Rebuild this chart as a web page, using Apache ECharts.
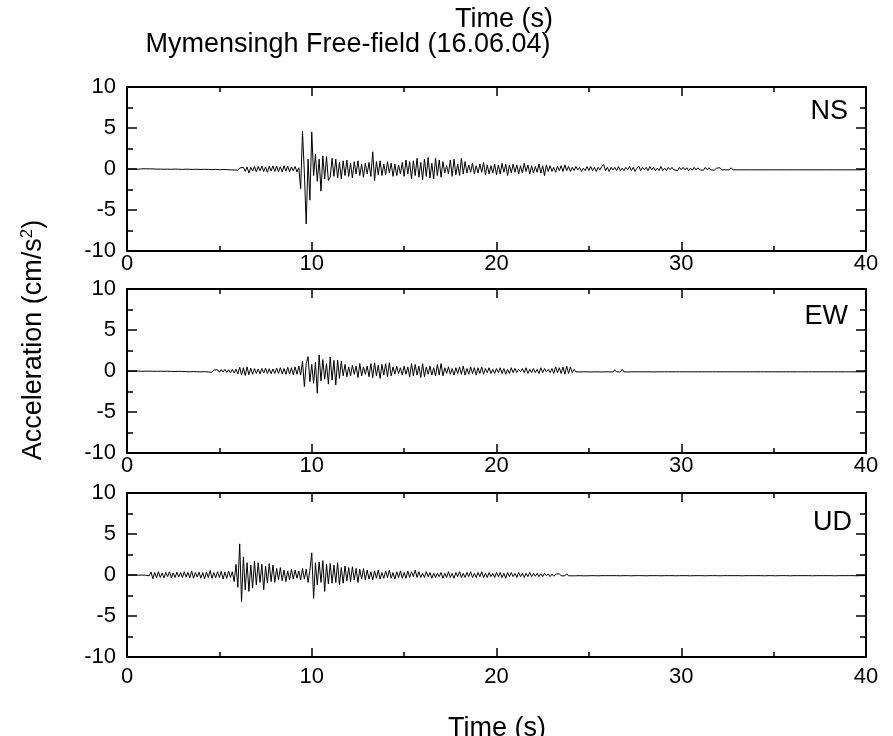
<!DOCTYPE html>
<html>
<head>
<meta charset="utf-8">
<script src="https://cdn.jsdelivr.net/npm/echarts@6/dist/echarts.min.js"></script>
<style>html,body{margin:0;padding:0;background:#fff}#c{width:893px;height:736px}</style>
</head>
<body>
<div id="c"></div>
<script>
const dt = 0.1;
const panelNames = ['NS', 'EW', 'UD'];
const xTicks = [0, 10, 20, 30, 40];
const yTicks = [-10, -5, 0, 5, 10];

const ns = [
0,0.02,-0.02,0.03,-0.01,0.02,-0.03,0.01,0.02,-0.02,
0.03,-0.02,0.01,-0.03,0.02,0.01,-0.02,0.03,-0.01,0.02,
-0.03,0.04,-0.02,0.01,-0.04,0.03,-0.01,0.02,-0.03,0.04,
-0.05,0.03,-0.02,0.06,-0.04,0.02,-0.05,0.04,-0.03,0.05,
-0.06,0.05,-0.04,0.07,-0.05,0.03,-0.08,0.06,-0.04,0.07,
-0.09,0.08,-0.06,0.1,-0.08,0.12,-0.1,0.07,-0.12,0.1,
-0.14,0.12,-0.1,0.2,-0.3,0.25,-0.5,0.2,-0.25,0.3,
-0.35,0.3,-0.22,0.35,-0.3,0.25,-0.4,0.32,-0.25,0.38,
-0.3,0.35,-0.32,0.28,-0.35,0.4,-0.28,0.33,-0.35,0.25,
-0.22,0.3,-0.35,0.15,-2.4,4.6,-0.5,-6.7,1.2,-3.8,
4.5,-0.8,1.8,-1.5,1.2,-2.7,1.6,-1.2,1.5,-1.4,
-1.0,1.3,-0.9,1.2,-1.1,0.8,-1.2,1.0,-0.8,1.1,
-0.9,0.7,-1.1,0.9,-0.6,1.0,-0.8,0.6,-1.0,0.7,
-0.6,0.8,-0.9,2.1,-1.4,0.9,-0.7,1.0,-0.8,0.6,
-0.7,0.9,-0.5,0.7,-0.9,0.6,-0.8,0.5,-0.6,0.8,
-0.9,1.1,-0.6,0.9,-1.2,1.0,-0.8,1.3,-1.0,0.8,
-1.3,1.2,-0.9,1.4,-1.1,0.7,-1.2,1.3,-0.8,1.1,
-1.0,0.9,-0.5,0.4,-0.6,1.1,-0.9,1.2,-0.7,0.6,
-0.8,1.3,-0.6,0.9,-0.5,0.5,-0.4,0.7,-0.6,0.4,
-0.5,0.6,-0.4,0.8,-0.7,0.5,-0.6,0.4,-0.5,0.6,
-0.7,0.5,-0.6,0.7,-0.4,0.6,-0.8,0.5,-0.5,0.6,
-0.4,0.5,-0.6,0.4,-0.5,0.7,-0.3,0.5,-0.6,0.4,
-0.5,0.3,-0.4,0.6,-0.5,0.4,-0.8,0.5,-0.3,0.4,
-0.3,0.2,-0.4,0.3,-0.2,0.4,-0.3,0.5,-0.2,0.3,
-0.3,0.2,-0.2,0.3,-0.1,0.2,-0.3,0.1,-0.2,0.3,
-0.2,0.3,-0.2,0.2,-0.3,0.2,-0.1,0.3,0.55,-0.2,
0.2,-0.3,0.2,-0.1,0.2,-0.2,0.3,-0.2,0.1,-0.2,
0.2,-0.1,0.3,-0.2,0.2,-0.3,0.1,0.35,-0.2,0.2,
-0.1,0.2,-0.2,0.3,-0.1,0.2,-0.2,0.1,-0.2,0.3,
-0.2,0.1,-0.2,0.2,-0.1,0.2,-0.1,0.1,-0.2,0.2,
-0.1,0.2,-0.1,0.15,-0.2,0.1,-0.15,0.2,-0.1,0.15,
-0.1,0.1,-0.15,0.2,-0.1,0.15,-0.1,0.1,-0.15,0.1,
-0.1,0.15,-0.1,0.1,-0.1,0.1,-0.1,0.15,-0.1,0.1,
-0.1,0.1,-0.1,0.1,-0.1,0.1,-0.1,0.1,-0.1,0.1,
-0.1,0.1,-0.1,0.1,-0.1,0.1,-0.1,0.1,-0.1,0.1,
-0.1,0.1,-0.1,0.1,-0.1,0.1,-0.1,0.1,-0.1,0.1,
-0.1,0.1,-0.1,0.1,-0.1,0.1,-0.1,0.1,-0.1,0.1,
-0.1,0.1,-0.1,0.1,-0.1,0.1,-0.1,0.1,-0.1,0.1,
-0.1,0.1,-0.1,0.1,-0.1,0.1,-0.1,0.1,-0.1,0.1,
-0.1,0.1,-0.1,0.1,-0.1,0.1,-0.1,0.1,-0.1,0.1,
0
];

const ew = [
0,0.02,-0.02,0.01,-0.02,0.03,-0.01,0.02,-0.03,0.01,
-0.02,0.03,-0.02,0.04,-0.03,0.02,-0.04,0.03,-0.02,0.04,
-0.04,0.05,-0.03,0.06,-0.05,0.04,-0.06,0.05,-0.04,0.07,
-0.06,0.08,-0.07,0.06,-0.1,0.08,-0.07,0.1,-0.09,0.08,
-0.1,0.12,-0.08,0.14,-0.12,0.1,-0.15,0.12,-0.1,0.15,
-0.15,0.18,-0.12,0.2,-0.18,0.15,-0.22,0.2,-0.25,0.22,
-0.35,0.45,-0.5,0.4,-0.55,0.5,-0.45,0.35,-0.4,0.3,
-0.3,0.25,-0.35,0.3,-0.25,0.35,-0.3,0.28,-0.32,0.25,
-0.3,0.35,-0.28,0.4,-0.35,0.3,-0.4,0.45,-0.38,0.4,
-0.45,0.5,-0.4,0.6,-0.5,1.2,-1.9,0.9,1.75,-1.3,
0.8,-1.5,1.1,-2.7,1.95,-1.2,1.4,-1.0,0.9,-1.6,
1.7,-1.1,1.3,-1.7,1.35,-0.9,1.2,-0.6,0.8,-0.7,
0.5,-0.6,0.7,-0.4,0.6,-0.8,0.9,-0.6,0.5,-0.4,
0.6,-0.7,0.9,-0.8,1.0,-0.6,0.7,-0.9,0.8,-0.5,
0.9,-0.7,1.0,-0.6,0.5,-0.4,0.6,-0.3,0.4,-0.5,
0.6,-0.4,0.5,-0.7,0.9,-0.6,0.8,-0.5,0.6,-0.8,
0.9,-0.7,0.5,-0.4,0.6,-0.5,0.4,-0.6,0.8,-0.5,
0.9,-0.6,0.4,-0.3,0.5,-0.4,0.3,-0.5,0.4,-0.3,
0.5,-0.4,0.6,-0.5,0.3,-0.4,0.5,-0.3,0.4,-0.5,
0.4,-0.3,0.5,-0.4,0.3,-0.2,0.4,-0.3,0.2,-0.3,
0.3,-0.2,0.4,-0.3,0.3,-0.4,0.2,-0.3,0.4,-0.2,
0.3,-0.2,0.2,-0.1,0.3,-0.2,0.4,-0.3,0.2,-0.2,
0.3,-0.2,0.2,-0.3,0.4,-0.2,0.3,-0.1,0.2,-0.2,
0.3,-0.3,0.5,-0.2,0.4,-0.3,0.5,-0.4,0.6,-0.3,
0.5,-0.2,0.2,-0.1,0.1,-0.12,0.1,-0.1,0.12,-0.1,
0.1,-0.12,0.1,-0.1,0.12,-0.1,0.1,-0.12,0.1,-0.1,
0.12,-0.1,0.1,-0.12,0.15,-0.1,0.1,-0.12,0.2,-0.1,
0.1,-0.12,0.1,-0.1,0.12,-0.1,0.1,-0.1,0.1,-0.1,
0.1,-0.1,0.1,-0.1,0.1,-0.12,0.1,-0.1,0.1,-0.1,
0.1,-0.1,0.1,-0.1,0.1,-0.1,0.1,-0.1,0.1,-0.1,
0.1,-0.1,0.1,-0.1,0.1,-0.1,0.1,-0.1,0.12,-0.1,
0.1,-0.1,0.1,-0.1,0.1,-0.1,0.1,-0.1,0.1,-0.1,
0.1,-0.1,0.1,-0.1,0.1,-0.1,0.1,-0.1,0.1,-0.1,
0.1,-0.1,0.1,-0.1,0.1,-0.1,0.1,-0.1,0.1,-0.1,
0.1,-0.1,0.1,-0.1,0.1,-0.1,0.1,-0.1,0.1,-0.1,
0.1,-0.1,0.1,-0.1,0.1,-0.1,0.1,-0.1,0.1,-0.1,
0.1,-0.1,0.1,-0.1,0.1,-0.1,0.1,-0.1,0.1,-0.1,
0.1,-0.1,0.1,-0.1,0.1,-0.1,0.1,-0.1,0.1,-0.1,
0.1,-0.1,0.1,-0.1,0.1,-0.1,0.1,-0.1,0.1,-0.1,
0.1,-0.1,0.1,-0.1,0.1,-0.1,0.1,-0.1,0.1,-0.1,
0
];

const ud = [
0,0.01,-0.01,0.02,-0.01,0.01,-0.02,0.01,-0.01,0.02,
-0.02,0.03,-0.1,0.35,-0.45,0.3,-0.35,0.4,-0.3,0.25,
-0.35,0.3,-0.2,0.4,-0.35,0.25,-0.3,0.35,-0.25,0.3,
-0.3,0.4,-0.25,0.3,-0.35,0.5,-0.4,0.3,-0.25,0.35,
-0.4,0.3,-0.45,0.35,-0.3,0.55,-0.4,0.3,-0.35,0.4,
-0.3,0.45,-0.5,0.35,-0.4,0.5,-0.3,0.4,-0.8,1.3,
-1.5,3.8,-3.25,2.2,-1.8,1.5,-2.0,1.2,-1.6,1.7,
-1.2,1.5,-0.9,1.3,-1.8,1.1,-1.0,1.4,-0.8,1.2,
-0.9,0.8,-0.6,0.9,-0.7,0.6,-0.8,0.5,-0.6,0.7,
-0.5,0.6,-0.4,0.5,-0.6,0.8,-0.5,0.7,-0.9,0.6,
2.7,-2.85,1.5,-1.2,1.6,-0.9,1.75,-2.0,1.3,-1.1,
1.4,-1.0,1.2,-0.9,1.5,-1.2,0.9,-1.0,1.1,-0.7,
0.9,-0.8,1.0,-0.6,0.8,-0.9,0.7,-0.5,0.8,-0.6,
0.6,-0.5,0.4,-0.6,0.5,-0.4,0.6,-0.5,0.3,-0.4,
0.5,-0.3,0.6,-0.4,0.3,-0.5,0.4,-0.3,0.5,-0.4,
0.3,-0.4,0.5,-0.3,0.4,-0.2,0.6,-0.3,0.4,-0.3,
0.2,-0.3,0.4,-0.2,0.3,-0.4,0.2,-0.3,0.2,-0.2,
0.3,-0.4,0.2,-0.3,0.4,-0.3,0.2,-0.4,0.3,-0.2,
0.4,-0.3,0.2,-0.3,0.3,-0.2,0.4,-0.3,0.2,-0.3,
0.3,-0.2,0.4,-0.3,0.2,-0.3,0.3,-0.2,0.2,-0.3,
0.3,-0.2,0.3,-0.3,0.2,-0.4,0.3,-0.2,0.3,-0.2,
0.2,-0.3,0.3,-0.2,0.2,-0.3,0.2,-0.2,0.3,-0.2,
0.2,-0.15,0.2,-0.2,0.15,-0.2,0.2,-0.1,0.15,-0.2,
0.1,-0.15,0.1,-0.1,0.15,-0.1,0.1,-0.1,0.15,-0.1,
0.1,-0.1,0.08,-0.1,0.1,-0.08,0.1,-0.1,0.08,-0.1,
0.08,-0.08,0.1,-0.08,0.08,-0.1,0.08,-0.08,0.08,-0.08,
0.1,-0.08,0.08,-0.08,0.1,-0.08,0.08,-0.1,0.08,-0.08,
0.08,-0.08,0.1,-0.1,0.08,-0.08,0.1,-0.08,0.08,-0.08,
0.08,-0.1,0.08,-0.08,0.08,-0.08,0.1,-0.08,0.08,-0.1,
0.08,-0.08,0.1,-0.08,0.08,-0.08,0.08,-0.1,0.08,-0.08,
0.1,-0.08,0.08,-0.08,0.08,-0.1,0.08,-0.08,0.1,-0.08,
0.08,-0.08,0.08,-0.1,0.08,-0.08,0.08,-0.08,0.1,-0.08,
0.08,-0.1,0.08,-0.08,0.1,-0.08,0.08,-0.08,0.08,-0.08,
0.1,-0.08,0.08,-0.1,0.08,-0.08,0.08,-0.08,0.1,-0.08,
0.08,-0.08,0.1,-0.08,0.08,-0.1,0.08,-0.08,0.08,-0.08,
0.08,-0.1,0.08,-0.08,0.1,-0.08,0.08,-0.08,0.08,-0.1,
0.08,-0.08,0.1,-0.08,0.08,-0.08,0.1,-0.08,0.08,-0.08,
0.08,-0.1,0.08,-0.08,0.08,-0.08,0.1,-0.08,0.08,-0.08,
0.1,-0.08,0.08,-0.1,0.08,-0.08,0.08,-0.08,0.1,-0.08,
0.08,-0.08,0.1,-0.08,0.08,-0.1,0.08,-0.08,0.08,-0.08,
0
];

const traces = [ns, ew, ud];
const FONT = '"Liberation Sans", Arial, Helvetica, sans-serif';
const gridTops = [87, 289, 493];
const labelMargins = [2, 2, 9];

const chart = echarts.init(document.getElementById('c'), null, {renderer: 'canvas'});

const grids = [], xAxes = [], yAxes = [], series = [];
const axLine = {onZero: false, lineStyle: {color: '#000', width: 2}};
gridTops.forEach((top, g) => {
  grids.push({left: 127, width: 739, top: top, height: 164});
  const xBase = {
    type: 'value', gridIndex: g, min: xTicks[0], max: xTicks[xTicks.length - 1], interval: 10,
    axisLine: axLine, splitLine: {show: false},
    axisTick: {inside: true, length: 9, lineStyle: {color: '#000', width: 1.5}},
    minorTick: {show: true, splitNumber: 2, length: 5, lineStyle: {color: '#000', width: 1.5}}
  };
  xAxes.push(Object.assign({}, xBase, {position: 'bottom',
    axisLabel: {show: true, margin: labelMargins[g], color: '#000', fontSize: 22, fontFamily: FONT}}));
  xAxes.push(Object.assign({}, xBase, {position: 'top', axisLabel: {show: false}}));
  const yBase = {
    type: 'value', gridIndex: g, min: yTicks[0], max: yTicks[yTicks.length - 1], interval: 5,
    axisLine: axLine, splitLine: {show: false},
    axisTick: {inside: true, length: 10, lineStyle: {color: '#000', width: 1.5}},
    minorTick: {show: true, splitNumber: 2, length: 6, lineStyle: {color: '#000', width: 1.5}}
  };
  yAxes.push(Object.assign({}, yBase, {position: 'left',
    axisLabel: {show: true, margin: 11, color: '#000', fontSize: 22, fontFamily: FONT,
      showMinLabel: true, showMaxLabel: true}}));
  yAxes.push(Object.assign({}, yBase, {position: 'right', axisLabel: {show: false}}));
  series.push({
    type: 'line', name: panelNames[g], xAxisIndex: 2 * g, yAxisIndex: 2 * g,
    data: traces[g].map((v, i) => [+(i * dt).toFixed(1), v]),
    showSymbol: false, symbol: 'none', sampling: null, smooth: false,
    lineStyle: {color: '#000', width: 1}, silent: true, clip: true
  });
});

const panelLabelPos = [[848, 112], [848, 317], [852, 523]];
const graphic = [
  {type: 'text', x: 504, y: 20,
   style: {text: 'Time (s)', font: '27px ' + FONT, fill: '#000', textAlign: 'center', textVerticalAlign: 'middle'}},
  {type: 'text', x: 348, y: 45,
   style: {text: 'Mymensingh Free-field (16.06.04)', font: '27px ' + FONT, fill: '#000', textAlign: 'center', textVerticalAlign: 'middle'}},
  {type: 'text', x: 497, y: 729,
   style: {text: 'Time (s)', font: '27px ' + FONT, fill: '#000', textAlign: 'center', textVerticalAlign: 'middle'}},
  {type: 'text', x: 34, y: 340, rotation: Math.PI / 2,
   style: {text: '{a|Acceleration (cm/s}{s|2}{a|)}', textAlign: 'center', textVerticalAlign: 'middle',
     rich: {a: {fontSize: 27, fontFamily: FONT, color: '#000'},
            s: {fontSize: 17, fontFamily: FONT, color: '#000', padding: [0, 0, 14, 0]}}}}
];
panelNames.forEach((n, i) => {
  graphic.push({type: 'text', x: panelLabelPos[i][0], y: panelLabelPos[i][1],
    style: {text: n, font: '27px ' + FONT, fill: '#000', textAlign: 'right', textVerticalAlign: 'middle'}});
});

chart.setOption({
  animation: false,
  backgroundColor: '#fff',
  grid: grids, xAxis: xAxes, yAxis: yAxes, series: series, graphic: graphic
});
</script>
</body>
</html>
